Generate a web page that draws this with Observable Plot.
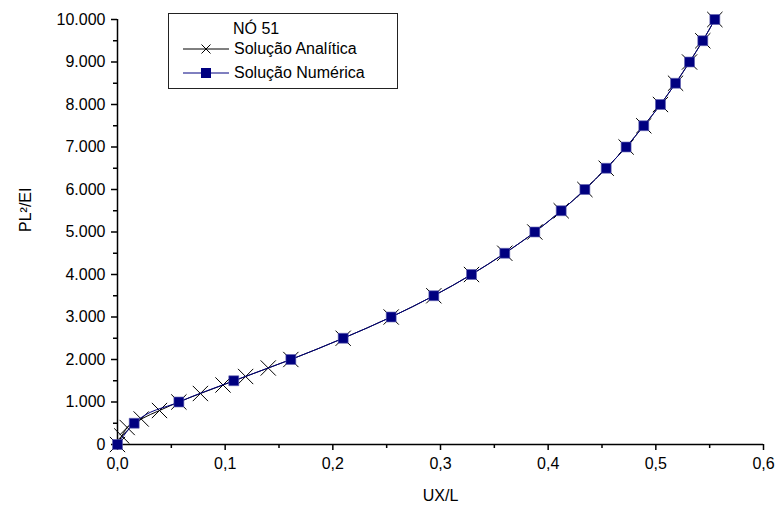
<!DOCTYPE html>
<html>
<head>
<meta charset="utf-8">
<script src="https://cdn.jsdelivr.net/npm/d3@7"></script>
<script src="https://cdn.jsdelivr.net/npm/@observablehq/plot@0.6"></script>
<style>
  body { margin: 0; background: #fff; }
  #chart { position: relative; width: 778px; height: 510px; font-family: Arial, "Liberation Sans", sans-serif; }
  .legend {
    position: absolute; left: 168px; top: 13px; width: 230px; height: 76px;
    border: 1px solid #222; background: #fff; font-size: 16px; color: #000;
    box-sizing: border-box;
  }
  .legend .ttl { position: absolute; left: 64px; top: 6px; line-height: 18px; }
  .legend .row { position: absolute; left: 14px; height: 20px; display: flex; align-items: center; }
  .legend .row svg { margin-right: 5px; }
</style>
</head>
<body>
<div id="chart"></div>
<script>
// Load parameter PL²/EI and lateral displacement UX/L at node 51
const numericLoad = [0, 500, 1000, 1500, 2000, 2500, 3000, 3500, 4000, 4500, 5000,
  5500, 6000, 6500, 7000, 7500, 8000, 8500, 9000, 9500, 10000];
const numericUx = [0, 0.0155, 0.057, 0.108, 0.161, 0.2096, 0.2542, 0.2938, 0.3288, 0.3597, 0.3876,
  0.4121, 0.4341, 0.4539, 0.4724, 0.4888, 0.5043, 0.5183, 0.5313, 0.5436, 0.5548];

const analyticLoad = [0, 200, 400, 600, 800, 1000, 1200, 1400, 1600, 1800, 2000,
  2500, 3000, 3500, 4000, 4500, 5000, 5500, 6000, 6500, 7000, 7500, 8000, 8500, 9000, 9500, 10000];
const analyticUx = [0, 0.004, 0.009, 0.022, 0.039, 0.057, 0.077, 0.098, 0.119, 0.140, 0.161,
  0.2096, 0.2542, 0.2938, 0.3288, 0.3597, 0.3876, 0.4121, 0.4341, 0.4539, 0.4724, 0.4888, 0.5043, 0.5183, 0.5313, 0.5436, 0.5548];

const xTicks = [0, 0.1, 0.2, 0.3, 0.4, 0.5, 0.6];
const xMinorTicks = [0.05, 0.15, 0.25, 0.35, 0.45, 0.55];
const yTicks = [0, 1000, 2000, 3000, 4000, 5000, 6000, 7000, 8000, 9000, 10000];
const yMinorTicks = [500, 1500, 2500, 3500, 4500, 5500, 6500, 7500, 8500, 9500];

const seriesNames = ["Solução Analítica", "Solução Numérica"];
const legendTitle = "NÓ 51";

const numeric = numericLoad.map((p, i) => ({ux: numericUx[i], p}));
const analytic = analyticLoad.map((p, i) => ({ux: analyticUx[i], p}));

const ptBR = d3.formatLocale({decimal: ",", thousands: ".", grouping: [3], currency: ["R$", ""]});
const fmtX = ptBR.format(".1f");
const fmtY = ptBR.format(",d");

const navy = "#000080";

const plot = Plot.plot({
  width: 778,
  height: 510,
  marginLeft: 117,
  marginRight: 15,
  marginTop: 19,
  marginBottom: 66,
  style: {fontFamily: 'Arial, "Liberation Sans", sans-serif', fontSize: "16px", color: "#000", background: "#fff"},
  x: {domain: [0, 0.6]},
  y: {domain: [0, 10000]},
  marks: [
    Plot.axisX(xTicks, {tickSize: 6, tickPadding: 7, tickFormat: fmtX, label: null, strokeWidth: 1.5}),
    Plot.axisX(xMinorTicks, {tickSize: 4, text: null, label: null, strokeWidth: 1.5}),
    Plot.axisY(yTicks, {tickSize: 6, tickPadding: 6, tickFormat: fmtY, label: null, strokeWidth: 1.5}),
    Plot.axisY(yMinorTicks, {tickSize: 4, text: null, label: null, strokeWidth: 1.5}),
    Plot.ruleY([0], {stroke: "#000", strokeWidth: 1.5}),
    Plot.ruleX([0], {stroke: "#000", strokeWidth: 1.5}),
    // analytic solution: black line with crosses
    Plot.line(analytic, {x: "ux", y: "p", stroke: "#000", strokeWidth: 1, curve: "monotone-x"}),
    Plot.dot(analytic, {x: "ux", y: "p", symbol: "times", r: 7, stroke: "#000", strokeWidth: 1}),
    // numeric solution: navy line with squares
    Plot.line(numeric, {x: "ux", y: "p", stroke: navy, strokeWidth: 1, curve: "monotone-x"}),
    Plot.dot(numeric, {x: "ux", y: "p", symbol: "square", r: 5.6, fill: navy, stroke: "#5a5ab0", strokeWidth: 0.6}),
    Plot.text(["UX/L"], {frameAnchor: "bottom", dy: 56, fontSize: 16, fill: "#000"}),
    Plot.text(["PL²/EI"], {frameAnchor: "left", dx: -92, rotate: -90, fontSize: 16, fill: "#000"})
  ]
});

const chart = document.getElementById("chart");
chart.appendChild(plot);

// legend box
const legend = document.createElement("div");
legend.className = "legend";
legend.innerHTML = `
  <div class="ttl">${legendTitle}</div>
  <div class="row" style="top:25px">
    <svg width="46" height="14"><line x1="0" y1="7" x2="46" y2="7" stroke="#000" stroke-width="1"/>
      <path d="M18.5,2.5L27.5,11.5M27.5,2.5L18.5,11.5" stroke="#000" stroke-width="1"/></svg>
    <span>${seriesNames[0]}</span>
  </div>
  <div class="row" style="top:49px">
    <svg width="46" height="14"><line x1="0" y1="7" x2="46" y2="7" stroke="${navy}" stroke-width="1"/>
      <rect x="18" y="2" width="10" height="10" fill="${navy}"/></svg>
    <span>${seriesNames[1]}</span>
  </div>`;
chart.appendChild(legend);
</script>
</body>
</html>
